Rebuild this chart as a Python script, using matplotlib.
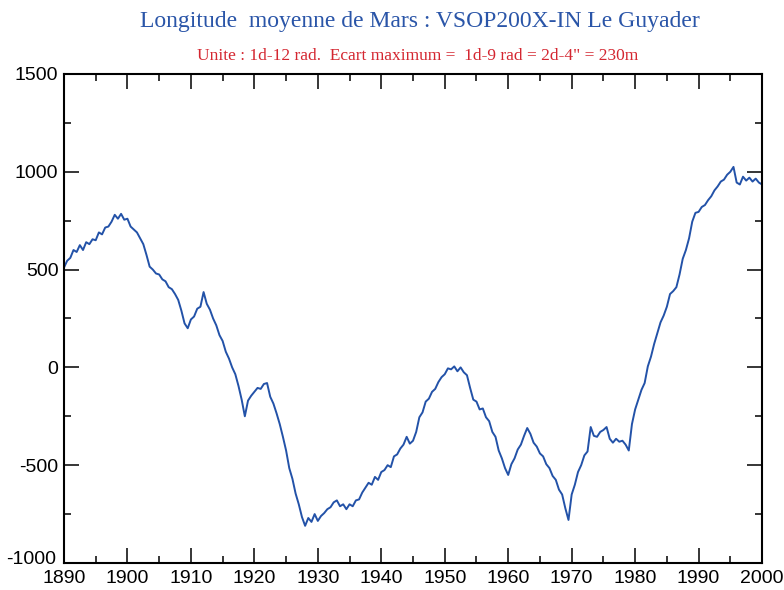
import numpy as np
import matplotlib.pyplot as plt
from matplotlib.ticker import MultipleLocator, FuncFormatter

plt.rcParams['axes.unicode_minus'] = False

# Half-yearly residuals of the mean longitude of Mars, one list per decade
d1890 = [510, 545, 560, 600, 590, 625, 600, 640, 630, 655,
         650, 690, 680, 715, 720, 745, 780, 760, 785, 755]
d1900 = [760, 720, 705, 690, 660, 630, 575, 515, 500, 480,
         475, 450, 440, 410, 400, 375, 345, 290, 225, 200]
d1910 = [245, 260, 300, 310, 385, 325, 295, 250, 215, 165,
         135, 80, 45, 0, -35, -95, -165, -250, -170, -145]
d1920 = [-125, -105, -110, -85, -80, -150, -185, -235, -290, -355,
         -425, -515, -570, -645, -700, -765, -810, -770, -790, -750]
d1930 = [-785, -760, -745, -725, -715, -690, -680, -710, -700, -725,
         -700, -710, -680, -675, -640, -615, -590, -600, -560, -575]
d1940 = [-535, -525, -500, -510, -455, -445, -415, -395, -355, -390,
         -375, -330, -255, -230, -175, -160, -125, -110, -75, -50]
d1950 = [-35, -5, -10, 5, -20, 0, -25, -40, -105, -165,
         -175, -215, -210, -255, -275, -330, -355, -425, -465, -515]
d1960 = [-550, -495, -465, -420, -395, -350, -310, -340, -385, -405,
         -440, -455, -495, -515, -555, -575, -625, -650, -720, -780]
d1970 = [-650, -600, -535, -500, -450, -430, -305, -350, -355, -330,
         -320, -305, -365, -385, -365, -380, -375, -395, -425, -290]
d1980 = [-215, -165, -115, -80, 5, 55, 120, 175, 230, 265,
         310, 375, 390, 410, 475, 555, 600, 660, 745, 790]
d1990 = [795, 820, 830, 855, 875, 905, 925, 950, 960, 985,
         1000, 1025, 945, 935, 975, 955, 970, 950, 965, 945]
d2000 = [935]

ecart = np.array(d1890 + d1900 + d1910 + d1920 + d1930 + d1940 +
                 d1950 + d1960 + d1970 + d1980 + d1990 + d2000)
annees = 1890 + 0.5 * np.arange(len(ecart))

titre = 'Longitude  moyenne de Mars : VSOP200X-IN Le Guyader'
sous_titre = 'Unite : 1d-12 rad.  Ecart maximum =  1d-9 rad = 2d-4" = 230m'

fig = plt.figure(figsize=(7.84, 5.90), dpi=100)
ax = fig.add_axes([0.0816, 0.0458, 0.8904, 0.8288])

ax.plot(annees, ecart, color='#2352a8', lw=1.4)

ax.set_xlim(1890, 2000)
ax.set_ylim(-1000, 1500)
ax.xaxis.set_major_locator(MultipleLocator(10))
ax.xaxis.set_minor_locator(MultipleLocator(5))
ax.yaxis.set_major_locator(MultipleLocator(500))
ax.yaxis.set_minor_locator(MultipleLocator(250))
# the bottom y label is drawn separately, slightly raised above the year labels
ax.yaxis.set_major_formatter(FuncFormatter(lambda v, p: '' if v <= -1000 else f'{v:.0f}'))

ax.tick_params(which='both', direction='in', top=True, right=True, width=1.1,
               labelsize=14, colors='black')
ax.tick_params(which='major', length=10.5)
ax.tick_params(which='minor', length=5)
ax.tick_params(axis='x', pad=5)
ax.tick_params(axis='y', pad=4)
for lab in ax.get_xticklabels() + ax.get_yticklabels():
    lab.set_family('Liberation Sans')
for sp in ax.spines.values():
    sp.set_linewidth(1.5)

ax.annotate('-1000', xy=(0, -1000), xycoords=('axes fraction', 'data'),
            xytext=(-5.5, 2.5), textcoords='offset points', ha='right', va='center',
            fontsize=14, family='Liberation Sans')

fig.text(0.536, 0.964, titre, ha='center', va='center', fontsize=17,
         family='Liberation Serif', color='#2a55a8')
fig.text(0.533, 0.905, sous_titre, ha='center', va='center', fontsize=12.5,
         family='Liberation Serif', color='#d42630')

fig.savefig('out.png', dpi=100)
